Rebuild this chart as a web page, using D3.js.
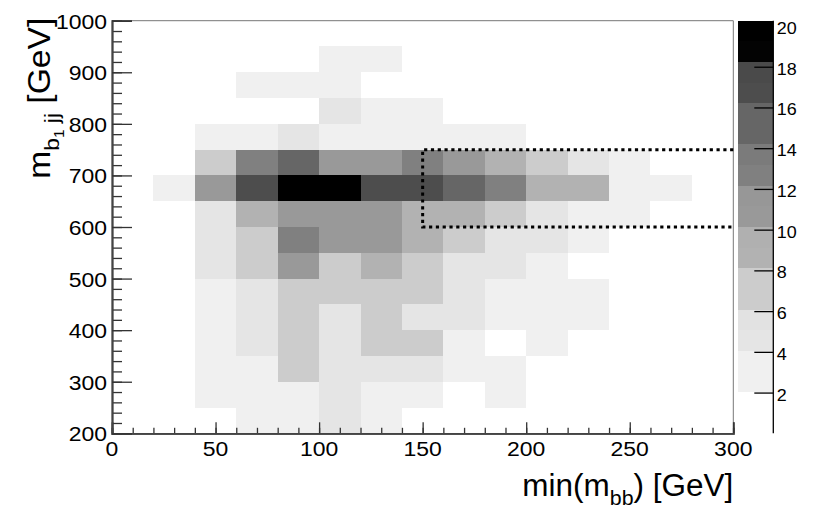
<!DOCTYPE html>
<html><head><meta charset="utf-8">
<script src="https://cdn.jsdelivr.net/npm/d3@7"></script>
<style>body{margin:0;background:#fff}</style>
</head><body>
<svg id="c" width="830" height="519"></svg>
<script>
// ---- data ----
const xBinLow = [0,20,40,60,80,100,120,140,160,180,200,220,240,260,280];
const xBinWidth = 20;
const yBinLow = [950,900,850,800,750,700,650,600,550,500,450,400,350,300,250,200];
const yBinWidth = 50;
// counts[row][col]; rows follow yBinLow (top to bottom), cols follow xBinLow
const counts = [
  [0,0,0,0,0,0,0,0,0,0,0,0,0,0,0],
  [0,0,0,0,0,3,3,0,0,0,0,0,0,0,0],
  [0,0,0,3,3,3,0,0,0,0,0,0,0,0,0],
  [0,0,0,0,0,5,3,3,0,0,0,0,0,0,0],
  [0,0,3,3,5,3,3,3,3,3,0,0,0,0,0],
  [0,0,7,13,15,11,11,13,11,9,7,5,3,0,0],
  [0,3,11,17,20,20,17,17,15,13,9,9,3,3,0],
  [0,0,5,9,11,11,11,9,9,7,5,3,3,0,0],
  [0,0,5,7,13,11,11,9,7,5,5,3,0,0,0],
  [0,0,5,7,11,7,9,7,5,5,3,0,0,0,0],
  [0,0,3,5,7,7,7,7,5,3,3,3,0,0,0],
  [0,0,3,5,7,5,7,5,5,3,3,3,0,0,0],
  [0,0,3,5,7,5,7,7,3,0,3,0,0,0,0],
  [0,0,3,3,7,5,5,5,3,3,0,0,0,0,0],
  [0,0,3,3,3,5,3,3,0,3,0,0,0,0,0],
  [0,0,0,3,3,5,3,0,0,0,0,0,0,0,0]
];
const xDomain = [0, 300];
const yDomain = [200, 1000];
const xMajorTicks = [0,50,100,150,200,250,300];
const xMinorStep = 10;
const yMajorTicks = [200,300,400,500,600,700,800,900,1000];
const yMinorStep = 20;
const zTicks = [2,4,6,8,10,12,14,16,18,20];
const zMax = 20.26;
const nLevels = 20;
const levelColors = ["#ffffff","#ffffff","#f0f0f0","#f0f0f0","#e5e5e5","#e2e2e2","#cccccc","#cccccc",
  "#b2b2b2","#b0b0b0","#999999","#979797","#808080","#7b7b7b","#666666","#666666",
  "#4d4d4d","#4a4a4a","#030303","#000000"];
const signalBox = {x0:150, x1:300, y0:600, y1:750};
const xTitle = {main:"min(m", sub:"bb", tail:") [GeV]"};

// ---- layout ----
const L = 112, R = 733.3, T = 20.7, B = 433.3;
const barL = 738, barR = 773.3;
const FONT = "'Liberation Sans', Arial, Helvetica, sans-serif";
const STRETCH = 1.12;

const svg = d3.select("#c");
const x = d3.scaleLinear().domain(xDomain).range([L, R]);
const y = d3.scaleLinear().domain(yDomain).range([B, T]);
const z = d3.scaleLinear().domain([0, zMax]).range([B, T]);
const levelW = zMax / nLevels;
const colorOf = v => levelColors[Math.min(nLevels-1, Math.floor(v / levelW))];

function stretch(sel, factor) {
  sel.each(function(){
    const len = this.getComputedTextLength();
    d3.select(this).attr("textLength", len * factor).attr("lengthAdjust", "spacingAndGlyphs");
  });
}

// cells
const cells = [];
counts.forEach((row, ri) => row.forEach((v, ci) => {
  if (v > 0 && Math.floor(v / levelW) >= 2) cells.push({x0: xBinLow[ci], y0: yBinLow[ri], v});
}));
svg.append("g").selectAll("rect").data(cells).join("rect")
  .attr("x", d => x(d.x0))
  .attr("y", d => y(d.y0 + yBinWidth))
  .attr("width", d => x(d.x0 + xBinWidth) - x(d.x0))
  .attr("height", d => y(d.y0) - y(d.y0 + yBinWidth))
  .attr("fill", d => colorOf(d.v))
  .attr("shape-rendering", "crispEdges");

// frame (top/right thin grey)
svg.append("path")
  .attr("d", `M${x(xDomain[0])},${y(yDomain[1])}H${x(xDomain[1])}V${y(yDomain[0])}`)
  .attr("fill", "none").attr("stroke", "#777").attr("stroke-width", 1);

// signal box (dotted)
svg.append("path")
  .attr("d", `M${x(signalBox.x1)},${y(signalBox.y1)}H${x(signalBox.x0)}V${y(signalBox.y0)}H${x(signalBox.x1)}`)
  .attr("fill", "none").attr("stroke", "#000").attr("stroke-width", 3)
  .attr("stroke-dasharray", "3.2,3.6");

// x axis
const gx = svg.append("g").attr("transform", `translate(0,${B})`);
gx.call(d3.axisBottom(x).tickValues(d3.range(xDomain[0], xDomain[1] + 0.1, xMinorStep)).tickSize(-5.5).tickFormat(""));
const gx2 = svg.append("g").attr("transform", `translate(0,${B})`);
gx2.call(d3.axisBottom(x).tickValues(xMajorTicks).tickSize(-11).tickFormat(""));
[gx, gx2].forEach(g => { g.select(".domain").attr("stroke", "#444").attr("stroke-width", 1.8); g.selectAll(".tick line").attr("stroke", "#333").attr("stroke-width", 1.3); });
const xl = svg.append("g").selectAll("text").data(xMajorTicks).join("text")
  .attr("x", d => x(d)).attr("y", B + 22.5)
  .attr("text-anchor", "middle").attr("font-family", FONT).attr("font-size", 20.5).attr("fill", "#000")
  .text(d => d);
stretch(xl, STRETCH);

// y axis
const gy = svg.append("g").attr("transform", `translate(${L},0)`);
gy.call(d3.axisLeft(y).tickValues(d3.range(yDomain[0], yDomain[1] + 0.1, yMinorStep)).tickSize(-10).tickFormat(""));
const gy2 = svg.append("g").attr("transform", `translate(${L},0)`);
gy2.call(d3.axisLeft(y).tickValues(yMajorTicks).tickSize(-20).tickFormat(""));
[gy, gy2].forEach(g => { g.select(".domain").attr("stroke", "#444").attr("stroke-width", 1.8); g.selectAll(".tick line").attr("stroke", "#333").attr("stroke-width", 1.3); });
const yl = svg.append("g").selectAll("text").data(yMajorTicks).join("text")
  .attr("x", L - 5).attr("y", d => y(d) + 8)
  .attr("text-anchor", "end").attr("font-family", FONT).attr("font-size", 20.5).attr("fill", "#000")
  .text(d => d);
stretch(yl, STRETCH);

// colour bar
const bands = d3.range(nLevels).map(i => ({lo: i * levelW, hi: (i + 1) * levelW, c: levelColors[i]}));
svg.append("g").selectAll("rect").data(bands).join("rect")
  .attr("x", barL).attr("width", barR - barL)
  .attr("y", d => z(d.hi)).attr("height", d => z(d.lo) - z(d.hi))
  .attr("fill", d => d.c).attr("shape-rendering", "crispEdges");
const gz = svg.append("g").attr("transform", `translate(${barR},0)`);
gz.call(d3.axisRight(z).tickValues(zTicks).tickSize(-19).tickFormat(""));
gz.select(".domain").attr("stroke", "#000").attr("stroke-width", 1.3).attr("d", `M0,${T}V${B}`);
gz.selectAll(".tick line").attr("stroke", "#000").attr("stroke-width", 1.3);
const zl = svg.append("g").selectAll("text").data(zTicks).join("text")
  .attr("x", barR + 3.5).attr("y", d => z(d) + 8)
  .attr("font-family", FONT).attr("font-size", 16).attr("fill", "#000")
  .text(d => d);
stretch(zl, STRETCH);

// x title
const xt = svg.append("text").attr("x", R).attr("y", 496)
  .attr("text-anchor", "end").attr("font-family", FONT).attr("font-size", 31).attr("fill", "#000");
xt.append("tspan").text(xTitle.main);
xt.append("tspan").attr("font-size", 21).attr("dy", 9).text(xTitle.sub);
xt.append("tspan").attr("dy", -9).text(xTitle.tail);
xt.attr("textLength", 211).attr("lengthAdjust", "spacingAndGlyphs");

// y title
const yt = svg.append("text").attr("transform", `translate(50,${T - 3}) rotate(-90)`)
  .attr("text-anchor", "end").attr("font-family", FONT).attr("font-size", 31).attr("fill", "#000");
yt.append("tspan").text("m");
yt.append("tspan").attr("font-size", 21).attr("dy", 9).text("b");
yt.append("tspan").attr("font-size", 14).attr("dy", 5).text("1");
yt.append("tspan").attr("font-size", 21).attr("dy", -5).text(" jj");
yt.append("tspan").attr("dy", -9).text(" [GeV]");
yt.attr("textLength", 161).attr("lengthAdjust", "spacingAndGlyphs");
</script>
</body></html>
